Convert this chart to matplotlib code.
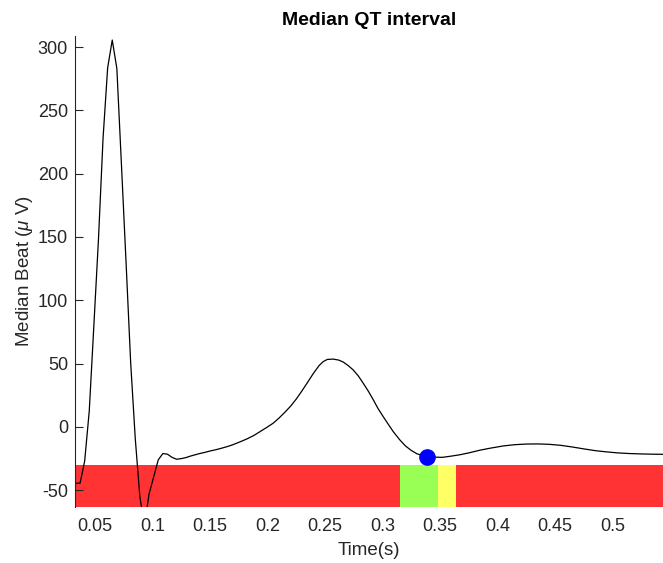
import matplotlib
matplotlib.use("Agg")
import matplotlib.pyplot as plt

plt.rcParams["font.family"] = ["Liberation Sans", "DejaVu Sans"]
plt.rcParams["mathtext.fontset"] = "custom"
plt.rcParams["mathtext.it"] = "Liberation Sans:italic"
plt.rcParams["mathtext.rm"] = "Liberation Sans"
plt.rcParams["axes.unicode_minus"] = False

# Median beat (time in s, amplitude in microvolts)
beat_time = [
    0.0326, 0.037, 0.041, 0.045, 0.049, 0.053, 0.057, 0.061, 0.065, 0.069,
    0.073, 0.077, 0.081, 0.085, 0.089, 0.093, 0.097, 0.101, 0.105, 0.109,
    0.113, 0.117, 0.121, 0.125, 0.129, 0.133, 0.137, 0.141, 0.145, 0.150,
    0.155, 0.160, 0.165, 0.170, 0.176, 0.182, 0.188, 0.1935, 0.200, 0.205,
    0.210, 0.215, 0.220, 0.225, 0.230, 0.234, 0.240, 0.245, 0.2485, 0.252,
    0.257, 0.262, 0.266, 0.270, 0.2746, 0.279, 0.2833, 0.288, 0.292, 0.296,
    0.3007, 0.305, 0.3094, 0.3152, 0.320, 0.325, 0.330, 0.3384, 0.345, 0.352,
    0.360, 0.367, 0.375, 0.385, 0.3935, 0.405, 0.415, 0.425, 0.435, 0.445,
    0.455, 0.465, 0.475, 0.485, 0.495, 0.505, 0.515, 0.525, 0.535, 0.544,
]
beat_uv = [
    -44.4, -44.4, -27.0, 12.6, 80.0, 148.0, 228.0, 283.6, 305.5, 283.0,
    207.0, 130.0, 51.0, -9.0, -55.0, -78.0, -53.0, -39.5, -26.0, -21.0,
    -21.5, -24.0, -25.5, -25.0, -24.2, -23.0, -22.0, -21.0, -20.2, -19.0,
    -18.0, -16.8, -15.5, -14.0, -11.8, -9.5, -6.8, -3.7, 0.0, 3.0,
    7.0, 11.5, 16.3, 22.0, 28.5, 34.0, 42.4, 48.6, 51.6, 53.3,
    53.6, 52.8, 51.2, 48.6, 45.0, 40.3, 34.5, 27.8, 21.5, 14.8,
    8.1, 2.2, -3.7, -10.3, -15.0, -18.5, -21.2, -23.4, -23.8, -24.0,
    -23.0, -22.0, -20.5, -18.3, -16.8, -15.0, -14.0, -13.5, -13.4, -13.7,
    -14.5, -15.8, -17.3, -18.7, -19.7, -20.5, -21.0, -21.3, -21.5, -21.6,
]

# Detected T-wave end
qt_end_time = 0.3384
qt_end_uv = -23.4

# Status band segments (start, end, colour)
band_start = [0.0326, 0.315, 0.348, 0.364]
band_end = [0.315, 0.348, 0.364, 0.544]
band_color = ["#FF3333", "#99FF55", "#FFFF66", "#FF3333"]
band_top = -30.0
band_bottom = -63.2

x_ticks = [0.05, 0.1, 0.15, 0.2, 0.25, 0.3, 0.35, 0.4, 0.45, 0.5]
y_ticks = [-50, 0, 50, 100, 150, 200, 250, 300]

fig = plt.figure(figsize=(6.63, 5.63), dpi=100)
ax = fig.add_axes([75 / 663, 56 / 563, 588 / 663, 471 / 563])

for x0, x1, c in zip(band_start, band_end, band_color):
    ax.fill_between([x0, x1], band_bottom, band_top, color=c, linewidth=0, zorder=1)

ax.plot(beat_time, beat_uv, color="black", linewidth=0.9, zorder=2)
ax.plot([qt_end_time], [qt_end_uv], "o", color="#0000FF", markersize=11, zorder=3)

ax.set_xlim(0.0326, 0.544)
ax.set_ylim(-63.2, 308.7)
ax.set_xticks(x_ticks)
ax.set_xticklabels([f"{v:g}" for v in x_ticks])
ax.set_yticks(y_ticks)

dark = "#262626"
for s in ["top", "right", "bottom"]:
    ax.spines[s].set_visible(False)
ax.spines["left"].set_color(dark)
ax.spines["left"].set_linewidth(0.8)
ax.tick_params(axis="y", direction="in", length=6, width=0.8, colors=dark,
               labelsize=13, pad=5)
ax.tick_params(axis="x", length=0, colors=dark, labelsize=13, pad=8)

ax.set_title("Median QT interval", fontsize=14, fontweight="bold", pad=8)
ax.set_xlabel("Time(s)", fontsize=13.5, color=dark, labelpad=5)
ax.set_ylabel(r"Median Beat ($\mu$ V)", fontsize=13.5, color=dark, labelpad=2)

fig.savefig("out.png", dpi=100)
